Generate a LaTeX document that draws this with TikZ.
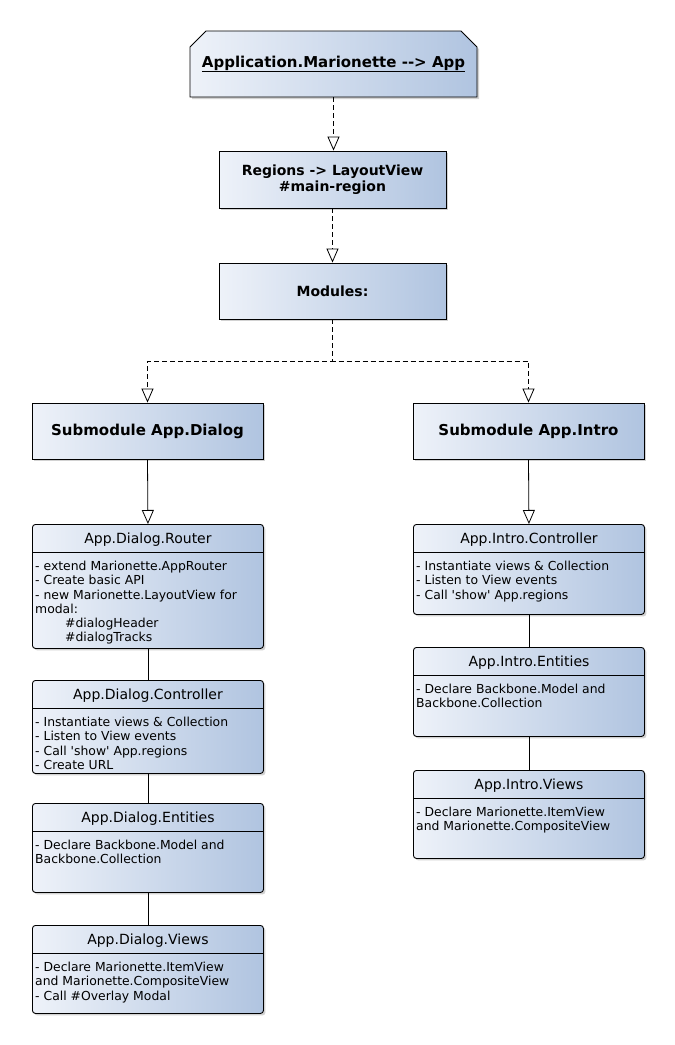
\documentclass[tikz,border=0pt]{standalone}
\usepackage{fontspec}
\newfontfamily\dv{DejaVu Sans}
\usetikzlibrary{arrows.meta,shadows,shapes.misc}
\definecolor{gl}{RGB}{238,242,249}
\definecolor{gr}{RGB}{176,196,224}
\tikzset{
 box/.style={draw=black, line width=0.9pt, left color=gl, right color=gr,
   drop shadow={shadow xshift=2pt,shadow yshift=-2pt,opacity=0.25,fill=black!70}},
 pkg/.style={box, rectangle, inner sep=0pt, align=center, font=\dv\bfseries\fontsize{14}{15.5}\selectfont},
 cls/.style={box, rectangle, rounded corners=3pt, anchor=north west, inner sep=0pt, minimum width=231pt},
 ttl/.style={font=\dv\fontsize{14}{16}\selectfont, anchor=base, inner sep=0pt},
 bdy/.style={font=\dv\fontsize{12.4}{14.2}\selectfont, anchor=north west, align=left, inner sep=0pt},
 dep/.style={dash pattern=on 5pt off 3pt, line width=0.8pt, -{Triangle[open,width=12pt,length=14pt]}},
 inh/.style={line width=0.8pt, -{Triangle[open,width=12pt,length=14pt]}},
 lnk/.style={line width=0.8pt},
}
\newcommand\clsbox[5]{%
 \node[cls, minimum height=#4pt] (#1) at (#2,#3) {};
 \draw[lnk] ([yshift=-28pt]#1.north west) -- ([yshift=-28pt]#1.north east);
 \node[ttl] (#1-t) at ([yshift=-19.5pt]#1.north) {#5};
}
\begin{document}
\begin{tikzpicture}[x=1pt,y=-1pt]
\useasboundingbox (0,0) rectangle (675,1045);
\fill[white] (0,0) rectangle (675,1045);

% top application box
\node[box, chamfered rectangle, chamfered rectangle corners={north west,north east},
  chamfered rectangle xsep=8pt, chamfered rectangle ysep=8pt, inner sep=0pt,
  minimum width=287pt, minimum height=66pt, font=\dv\bfseries\fontsize{15}{17}\selectfont]
  (app) at (333.5,64) {\underline{Application.Marionette -\kern0pt-> App}};

\node[pkg, minimum width=227pt, minimum height=57pt] (reg) at (332.5,179.5)
  {Regions -> LayoutView\\ \#main-region};
\node[pkg, minimum width=227pt, minimum height=56pt] (mod) at (332.5,291) {Modules:};

\node[pkg, minimum width=231pt, minimum height=56pt, font=\dv\bfseries\fontsize{15}{17}\selectfont] (sd) at (147.5,431) {Submodule App.Dialog};
\node[pkg, minimum width=231pt, minimum height=56pt, font=\dv\bfseries\fontsize{15}{17}\selectfont] (si) at (528.5,431) {Submodule App.Intro};

% dialog classes
\clsbox{dr}{32}{524}{124}{App.Dialog.Router}
\node[bdy] (dr-b) at ([xshift=3pt,yshift=-37pt]dr.north west)
 {- extend Marionette.AppRouter\\- Create basic API\\- new Marionette.LayoutView for\\modal:\\
  \hspace*{30pt}\#dialogHeader\\\hspace*{30pt}\#dialogTracks};

\clsbox{dc}{32}{680}{93}{App.Dialog.Controller}
\node[bdy] (dc-b) at ([xshift=3pt,yshift=-37pt]dc.north west)
 {- Instantiate views \& Collection\\- Listen to View events\\- Call 'show' App.regions\\- Create URL};

\clsbox{de}{32}{803}{89}{App.Dialog.Entities}
\node[bdy] (de-b) at ([xshift=3pt,yshift=-37pt]de.north west)
 {- Declare Backbone.Model and\\Backbone.Collection};

\clsbox{dv}{32}{925}{88}{App.Dialog.Views}
\node[bdy] (dv-b) at ([xshift=3pt,yshift=-37pt]dv.north west)
 {- Declare Marionette.ItemView\\and Marionette.CompositeView\\- Call \#Overlay Modal};

% intro classes
\clsbox{ic}{413}{524}{90}{App.Intro.Controller}
\node[bdy] (ic-b) at ([xshift=3pt,yshift=-37pt]ic.north west)
 {- Instantiate views \& Collection\\- Listen to View events\\- Call 'show' App.regions};

\clsbox{ie}{413}{647}{89}{App.Intro.Entities}
\node[bdy] (ie-b) at ([xshift=3pt,yshift=-37pt]ie.north west)
 {- Declare Backbone.Model and\\Backbone.Collection};

\clsbox{iv}{413}{770}{88}{App.Intro.Views}
\node[bdy] (iv-b) at ([xshift=3pt,yshift=-37pt]iv.north west)
 {- Declare Marionette.ItemView\\and Marionette.CompositeView};

% connectors
\draw[dep] (app.south) -- (app.south |- reg.north);
\draw[dep] (reg.south) -- (reg.south |- mod.north);
\draw[dep] (mod.south) -- ++(0,42) -| (sd.north);
\draw[dep] (mod.south) -- ++(0,42) -| (si.north);
\draw[inh] (sd.south) -- (dr.north);
\draw[inh] (si.south) -- (ic.north);
\draw[lnk] (dr.south) -- (dc.north);
\draw[lnk] (dc.south) -- (de.north);
\draw[lnk] (de.south) -- (dv.north);
\draw[lnk] (ic.south) -- (ie.north);
\draw[lnk] (ie.south) -- (iv.north);
\end{tikzpicture}
\end{document}
